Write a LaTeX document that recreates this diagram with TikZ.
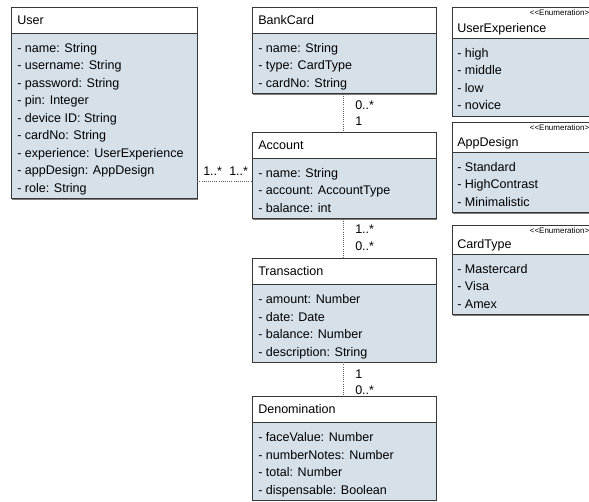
\documentclass[tikz,border=0pt]{standalone}
\usepackage{fontspec}
\setmainfont{Liberation Sans}
\usetikzlibrary{fit}

\definecolor{attrfill}{RGB}{213,224,233}
\definecolor{edgec}{RGB}{55,55,55}
\definecolor{shadec}{RGB}{125,125,125}
\definecolor{linkc}{RGB}{95,95,95}

\tikzset{
  boxedge/.style={draw=edgec, line width=0.6pt},
  boxshade/.style={fill=shadec},
  title/.style={anchor=base west, inner sep=0pt, font=\fontsize{9.4}{13.1}\selectfont},
  attr/.style={anchor=base west, inner sep=0pt, font=\fontsize{9.4}{13.1}\selectfont},
  stereo/.style={anchor=base east, inner sep=0pt, font=\fontsize{6}{7}\selectfont},
  mult/.style={anchor=base west, inner sep=0pt, font=\fontsize{9.4}{13.1}\selectfont},
  link/.style={draw=linkc, line width=0.6pt, densely dotted},
}

% compartments, outer node and attribute lines shared by both box kinds
% #1 name, #2 left, #3 top, #4 right, #5 header line, #6 bottom, #7 text indent, #8 attributes
\newcommand\boxbody[8]{%
  \fill[boxshade] ({#2+1.3},{#3+1.3}) rectangle ({#4+1.3},{#6+1.3});
  \draw[boxedge, fill=white] (#2,#3) rectangle (#4,#5);
  \draw[boxedge, fill=attrfill] (#2,#5) rectangle (#4,#6);
  \coordinate (#1-nw) at (#2,#3);
  \coordinate (#1-se) at (#4,#6);
  \node[fit=(#1-nw)(#1-se), inner sep=0pt] (#1) {};
  \foreach \txt [count=\k from 0] in {#8}
    \node[attr] (#1-a\k) at ({#2+#7},{#5+19.5+17.5*\k}) {\txt};
}

% class box: name, left, top, right, header line, bottom, title, attributes
\newcommand\umlclass[8]{%
  \boxbody{#1}{#2}{#3}{#4}{#5}{#6}{6}{#8}
  \node[title] (#1-title) at ({#2+6},{#5-8.5}) {#7};
}

% enumeration box: name, left, top, right, header line, bottom, title, literals
\newcommand\umlenum[8]{%
  \boxbody{#1}{#2}{#3}{#4}{#5}{#6}{5}{#8}
  \node[stereo] (#1-stereo) at (589.5,{#3+9}) {<\kern0pt<Enumeration>};
  \node[title] (#1-title) at ({#2+5},{#5-5.5}) {#7};
}

\begin{document}
\begin{tikzpicture}[x=0.75pt, y=-0.75pt]
  \useasboundingbox (0,0) rectangle (589,502);
  \clip (0,0) rectangle (589,502);

  \umlclass{user}{11}{7}{197}{33}{198.5}{User}{%
    - name: String, - username: String, - password: String, - pin: Integer,
    - device ID: String, - cardNo: String, - experience: UserExperience,
    - appDesign: AppDesign, - role: String}

  \umlclass{bank}{252}{7}{436}{33}{93.5}{BankCard}{%
    - name: String, - type: CardType, - cardNo: String}

  \umlclass{account}{252}{132}{436}{158}{218.5}{Account}{%
    - name: String, - account: AccountType, - balance: int}

  \umlclass{trans}{252}{258}{436}{284}{362}{Transaction}{%
    - amount: Number, - date: Date, - balance: Number, - description: String}

  \umlclass{denom}{252}{396}{436}{422}{500}{Denomination}{%
    - faceValue: Number, - numberNotes: Number, - total: Number, - dispensable: Boolean}

  \umlenum{uexp}{452}{7}{600}{38}{116}{UserExperience}{%
    - high, - middle, - low, - novice}

  \umlenum{adesign}{452}{122}{600}{152}{212.5}{AppDesign}{%
    - Standard, - HighContrast, - Minimalistic}

  \umlenum{ctype}{452}{225}{600}{254}{314.5}{CardType}{%
    - Mastercard, - Visa, - Amex}

  % associations
  \coordinate (col) at (343,0);
  \coordinate (row) at (0,181);

  \draw[link] (user.east |- row) -- (account.west |- row);
  \node[mult] (ua1) at (203,176) {1..*};
  \node[mult] (ua2) at (229,176) {1..*};

  \draw[link] (bank.south -| col) -- (account.north -| col);
  \node[mult] (ba1) at (355,109.5) {0..*};
  \node[mult] (ba2) at (355,126) {1};

  \draw[link] (account.south -| col) -- (trans.north -| col);
  \node[mult] (at1) at (355,234) {1..*};
  \node[mult] (at2) at (355,250.5) {0..*};

  \draw[link] (trans.south -| col) -- (denom.north -| col);
  \node[mult] (td1) at (355,378.5) {1};
  \node[mult] (td2) at (355,394) {0..*};
\end{tikzpicture}
\end{document}
